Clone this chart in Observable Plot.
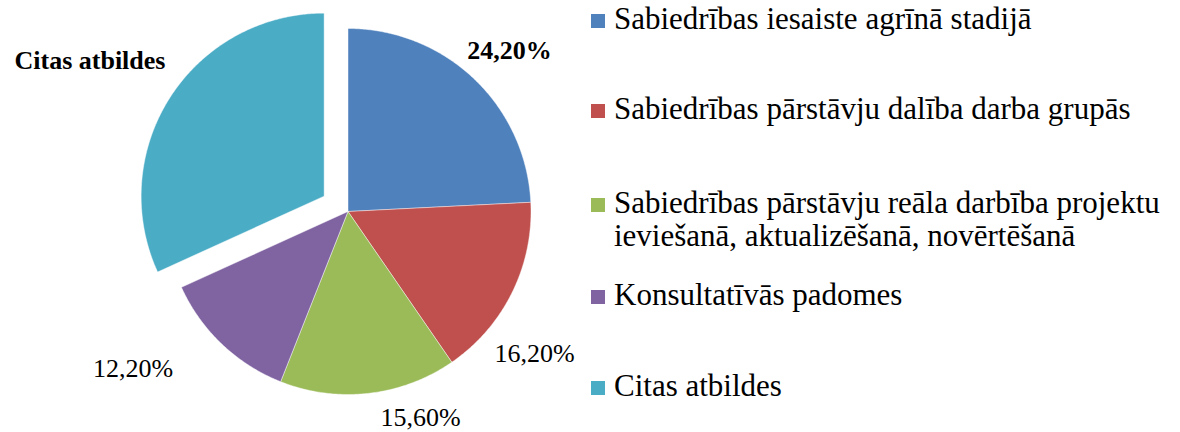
<!DOCTYPE html>
<html>
<head>
<meta charset="utf-8">
<script src="https://cdn.jsdelivr.net/npm/d3@7"></script>
<script src="https://cdn.jsdelivr.net/npm/@observablehq/plot@0.6"></script>
<style>
  html, body { margin: 0; padding: 0; background: #fff; }
  #chart { position: relative; width: 1180px; height: 432px; overflow: hidden; font-family: "Liberation Serif", Tinos, "Times New Roman", Times, "DejaVu Serif", "Noto Serif", serif; }
  #chart svg { position: absolute; left: 0; top: 0; }
  .legend-item { position: absolute; left: 591px; white-space: nowrap; color: #000; }
  .legend-item .sw { position: absolute; left: 0; width: 14px; height: 14px; }
  .legend-item .tx { position: absolute; left: 23px; font-size: 31px; line-height: 32px; }
</style>
</head>
<body>
<div id="chart"></div>
<script>
// ---- data ----
const categories = [
  "Sabiedrības iesaiste agrīnā stadijā",
  "Sabiedrības pārstāvju dalība darba grupās",
  "Sabiedrības pārstāvju reāla darbība projektu ieviešanā, aktualizēšanā, novērtēšanā",
  "Konsultatīvās padomes",
  "Citas atbildes"
];
const legendLines = [
  ["Sabiedrības iesaiste agrīnā stadijā"],
  ["Sabiedrības pārstāvju dalība darba grupās"],
  ["Sabiedrības pārstāvju reāla darbība projektu", "ieviešanā, aktualizēšanā, novērtēšanā"],
  ["Konsultatīvās padomes"],
  ["Citas atbildes"]
];
const values = [24.2, 16.2, 15.6, 12.2, 31.8];
const labels = ["24,20%", "16,20%", "15,60%", "12,20%", "Citas atbildes"];
const colors = ["#4F81BD", "#C0504D", "#9BBB59", "#8064A2", "#4BACC6"];

// ---- layout ----
const W = 1180, H = 432;
const cx = 347.5, cy = 211, R = 183;          // pie centre / radius in px
const explode = [0, 0, 0, 0, 0.155];           // radial offset (in radii)
const labelX = [0.883, 1.019, 0.396, -1.174, -1.410];
const labelY = [0.880, -0.776, -1.126, -0.858, 0.822];
const labelBold = [true, false, false, false, true];
const legendBaseline = [30, 120, 214, 306, 397];
const legendLineGap = 33;
const serif = "'Liberation Serif', Tinos, 'Times New Roman', Times, 'DejaVu Serif', 'Noto Serif', serif";

// ---- build slice outlines from the values ----
const arcs = d3.pie().sort(null).value(d => d)(values);
const slicePts = [];
arcs.forEach((a, i) => {
  const mid = (a.startAngle + a.endAngle) / 2;
  const ox = Math.sin(mid) * explode[i], oy = Math.cos(mid) * explode[i];
  const n = Math.max(8, Math.ceil((a.endAngle - a.startAngle) / (Math.PI / 360)));
  slicePts.push({cat: categories[i], x: ox, y: oy});
  for (let k = 0; k <= n; k++) {
    const t = a.startAngle + (a.endAngle - a.startAngle) * k / n;
    slicePts.push({cat: categories[i], x: ox + Math.sin(t), y: oy + Math.cos(t)});
  }
  slicePts.push({cat: categories[i], x: ox, y: oy});
});
const labelData = labels.map((l, i) => ({label: l, x: labelX[i], y: labelY[i], bold: labelBold[i]}));

const plot = Plot.plot({
  width: W, height: H,
  margin: 0,
  style: {background: "transparent", fontFamily: serif},
  x: {domain: [-cx / R, (W - cx) / R], range: [0, W], axis: null},
  y: {domain: [-(H - cy) / R, cy / R], range: [H, 0], axis: null},
  color: {domain: categories, range: colors},
  marks: [
    Plot.line(slicePts, {x: "x", y: "y", z: "cat", fill: "cat", stroke: "#ffffff", strokeWidth: 0.8, strokeOpacity: 0.55, curve: "linear"}),
    Plot.text(labelData.filter(d => d.bold), {x: "x", y: "y", text: "label", fontSize: 26, fontWeight: "bold", fontFamily: serif, fill: "#000"}),
    Plot.text(labelData.filter(d => !d.bold), {x: "x", y: "y", text: "label", fontSize: 26, fontFamily: serif, fill: "#000"})
  ]
});

const chart = document.getElementById("chart");
chart.appendChild(plot);

// ---- legend (HTML, right side) ----
legendLines.forEach((lines, i) => {
  const item = document.createElement("div");
  item.className = "legend-item";
  item.style.top = "0px";
  const sw = document.createElement("div");
  sw.className = "sw";
  sw.style.background = colors[i];
  sw.style.top = (legendBaseline[i] - 16) + "px";
  item.appendChild(sw);
  lines.forEach((ln, j) => {
    const tx = document.createElement("div");
    tx.className = "tx";
    tx.textContent = ln;
    tx.style.top = (legendBaseline[i] + j * legendLineGap - 27) + "px";
    item.appendChild(tx);
  });
  chart.appendChild(item);
});
</script>
</body>
</html>
